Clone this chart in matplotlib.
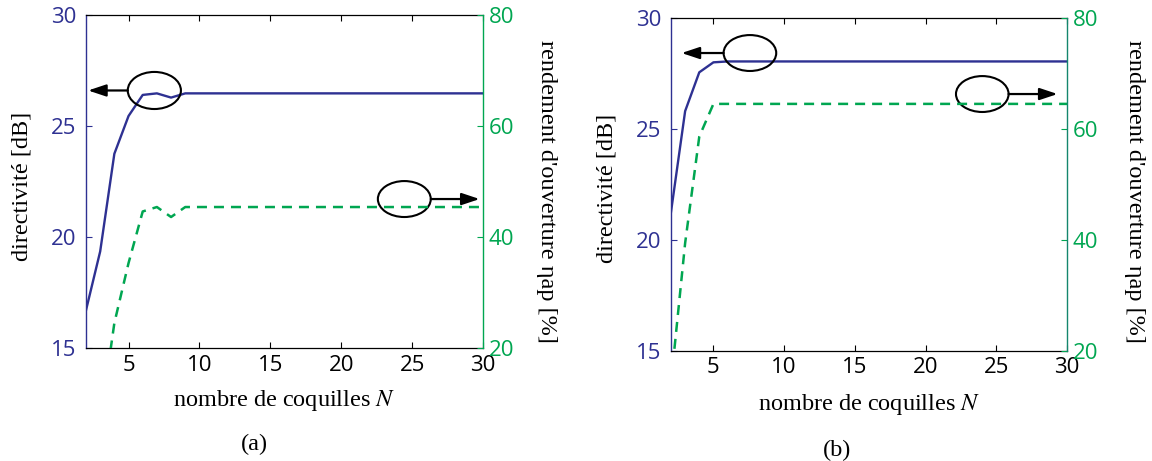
import matplotlib
matplotlib.use("Agg")
import matplotlib.pyplot as plt
from matplotlib.patches import Ellipse

# ---------------- data ----------------
N = list(range(2, 31))

directivity_a = [16.7, 19.35, 23.75, 25.45, 26.4, 26.47, 26.28, 26.47, 26.47, 26.47,
                 26.47, 26.47, 26.47, 26.47, 26.47, 26.47, 26.47, 26.47, 26.47, 26.47,
                 26.47, 26.47, 26.47, 26.47, 26.47, 26.47, 26.47, 26.47, 26.47]
efficiency_a = [2.0, 6.5, 24.5, 35.3, 44.6, 45.4, 43.6, 45.4, 45.4, 45.4,
                45.4, 45.4, 45.4, 45.4, 45.4, 45.4, 45.4, 45.4, 45.4, 45.4,
                45.4, 45.4, 45.4, 45.4, 45.4, 45.4, 45.4, 45.4, 45.4]

directivity_b = [21.25, 25.8, 27.55, 28.0, 28.04, 28.04, 28.04, 28.04, 28.04, 28.04,
                 28.04, 28.04, 28.04, 28.04, 28.04, 28.04, 28.04, 28.04, 28.04, 28.04,
                 28.04, 28.04, 28.04, 28.04, 28.04, 28.04, 28.04, 28.04, 28.04]
efficiency_b = [14.2, 39.4, 58.6, 64.5, 64.5, 64.5, 64.5, 64.5, 64.5, 64.5,
                64.5, 64.5, 64.5, 64.5, 64.5, 64.5, 64.5, 64.5, 64.5, 64.5,
                64.5, 64.5, 64.5, 64.5, 64.5, 64.5, 64.5, 64.5, 64.5]

x_ticks = [5, 10, 15, 20, 25, 30]
left_ticks = [15, 20, 25, 30]
right_ticks = [20, 40, 60, 80]

xlabel_text = "nombre de coquilles $N$"
ylabel_left = "directivité [dB]"
ylabel_right = "rendement d'ouverture ηap [%]"
panel_labels = ["(a)", "(b)"]

# ---------------- style ----------------
BLUE = "#2E3192"
GREEN = "#00A651"
SANS = "Open Sans"
SERIF = "Liberation Serif"
plt.rcParams["mathtext.fontset"] = "stix"

W, H = 1152, 461
fig = plt.figure(figsize=(W / 100, H / 100), dpi=100)


def px_axes(x0, y0, x1, y1):
    return [x0 / W, 1 - y1 / H, (x1 - x0) / W, (y1 - y0) / H]


def make_panel(rect, dirv, eff, right_spine_color, ann):
    ax1 = fig.add_axes(rect)
    ax2 = ax1.twinx()
    ax1.plot(N, dirv, color=BLUE, lw=1.7, zorder=3)
    ax2.plot(N, eff, color=GREEN, lw=1.8, dashes=(4.0, 2.8), zorder=3)

    ax1.set_xlim(2, 30)
    ax1.set_ylim(15, 30)
    ax2.set_ylim(20, 80)
    ax1.set_xticks(x_ticks)
    ax1.set_yticks(left_ticks)
    ax2.set_yticks(right_ticks)

    ax1.tick_params(axis="x", direction="in", top=True, length=4, width=0.8,
                    color="black", labelsize=16, pad=5)
    ax1.tick_params(axis="y", direction="in", length=4, width=0.8,
                    color=BLUE, labelcolor=BLUE, labelsize=16, pad=7)
    ax2.tick_params(axis="y", direction="in", length=4, width=0.8,
                    color=GREEN, labelcolor=GREEN, labelsize=16, pad=4)
    for lab in ax1.get_xticklabels() + ax1.get_yticklabels() + ax2.get_yticklabels():
        lab.set_fontfamily(SANS)

    ax1.spines["left"].set_color(BLUE)
    ax1.spines["left"].set_linewidth(1.0)
    ax1.spines["right"].set_visible(False)
    ax2.spines["left"].set_visible(False)
    ax2.spines["top"].set_visible(False)
    ax2.spines["bottom"].set_visible(False)
    ax2.spines["right"].set_color(right_spine_color)
    ax2.spines["right"].set_linewidth(1.0)
    for s in ("top", "bottom"):
        ax1.spines[s].set_color("black")
        ax1.spines[s].set_linewidth(0.9)

    # annotations (ellipses + arrows) in the left-axis data coordinates
    for (cx, cy, w, h, xa, xb) in ann:
        e = Ellipse((cx, cy), w, h, fill=False, edgecolor="black", lw=1.5,
                    zorder=5, clip_on=False)
        ax1.add_patch(e)
        ax1.annotate("", xy=(xb, cy), xytext=(xa, cy), xycoords="data",
                     arrowprops=dict(arrowstyle="-|>,head_length=0.6,head_width=0.2",
                                     mutation_scale=18, lw=1.6, color="black",
                                     shrinkA=0, shrinkB=0),
                     annotation_clip=False, zorder=6)
    return ax1, ax2


ann_a = [(6.82, 26.6, 3.75, 1.67, 4.95, 2.15),
         (24.45, 21.71, 3.73, 1.62, 26.32, 29.76)]
ann_b = [(7.58, 28.42, 3.72, 1.62, 5.72, 2.75),
         (24.01, 26.57, 3.72, 1.62, 25.87, 29.33)]

make_panel(px_axes(86, 15, 483, 348), directivity_a, efficiency_a, GREEN, ann_a)
make_panel(px_axes(671, 18, 1067, 350.5), directivity_b, efficiency_b, "#14866D", ann_b)

# ---------------- labels ----------------
fs = 17.5


def ftext(x, y, s, **kw):
    fig.text(x / W, 1 - y / H, s, family=SERIF, fontsize=fs, **kw)


ftext(284.5, 400, xlabel_text, ha="center", va="center")
ftext(869, 404, xlabel_text, ha="center", va="center")
ftext(254, 444, panel_labels[0], ha="center", va="center")
ftext(837, 450, panel_labels[1], ha="center", va="center")
ftext(22, 186, ylabel_left, ha="center", va="center", rotation=90)
ftext(607, 188, ylabel_left, ha="center", va="center", rotation=90)
ftext(546, 191, ylabel_right, ha="center", va="center", rotation=270)
ftext(1135, 191, ylabel_right, ha="center", va="center", rotation=270)

fig.savefig("out.png", dpi=100)
